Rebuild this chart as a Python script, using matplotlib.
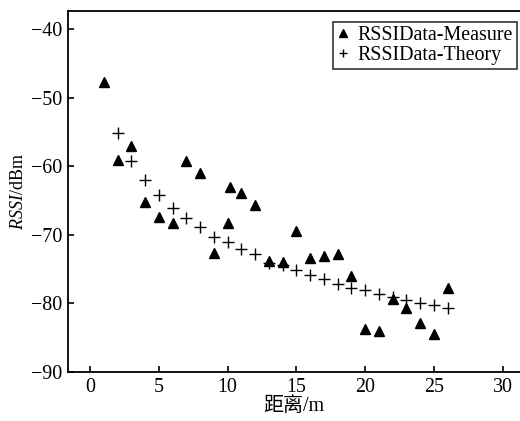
import numpy as np
import matplotlib
matplotlib.use("Agg")
import matplotlib.pyplot as plt

plt.rcParams['font.family'] = ['Liberation Serif', 'Noto Sans CJK SC']
plt.rcParams['mathtext.fontset'] = 'custom'
plt.rcParams['mathtext.rm'] = 'Liberation Serif'
plt.rcParams['mathtext.it'] = 'Liberation Serif:italic'
plt.rcParams['axes.unicode_minus'] = True

# 实测 RSSI
measure_x = [1, 2, 3, 4, 5, 6, 7, 8, 9, 10, 10.2, 11, 12, 13, 14, 15, 16, 17, 18,
             19, 20, 21, 22, 23, 24, 25, 26]
measure_y = [-47.7, -59.1, -57.0, -65.2, -67.4, -68.3, -59.2, -60.9, -72.6, -68.3,
             -63.0, -63.9, -65.6, -73.8, -73.9, -69.5, -73.3, -73.1, -72.8, -76.0,
             -83.7, -84.0, -79.3, -80.6, -82.8, -84.5, -77.7]

# 理论 RSSI
theory_x = list(range(2, 27))
theory_y = [-55.1, -59.2, -62.0, -64.2, -66.1, -67.6, -68.9, -70.3, -71.1, -72.1,
            -72.8, -74.1, -74.4, -75.1, -75.9, -76.5, -77.1, -77.7, -78.1, -78.6,
            -79.1, -79.5, -79.9, -80.2, -80.6]

x_ticks = [0, 5, 10, 15, 20, 25, 30]
y_ticks = [-40, -50, -60, -70, -80, -90]


def plot_rssi():
    fig = plt.figure(figsize=(5.2, 4.21), dpi=100)
    ax = fig.add_axes([0.1308, 0.1164, 0.8692, 0.8575])

    ax.plot(measure_x, measure_y, linestyle='none', marker='^', markersize=6.5,
            color='black', label='RSSIData-Measure')
    ax.plot(theory_x, theory_y, linestyle='none', marker='+', markersize=8,
            markeredgewidth=1.0, color='black', label='RSSIData-Theory')

    ax.set_xlim(-1.6, 31.25)
    ax.set_ylim(-90, -37.33)
    ax.set_xticks(x_ticks)
    ax.set_yticks(y_ticks)
    ax.tick_params(direction='in', length=4, width=1.2, labelsize=14.4,
                   top=False, right=False, pad=4)

    for side in ['left', 'bottom', 'top']:
        ax.spines[side].set_linewidth(1.3)
    ax.spines['right'].set_visible(False)

    ax.set_xlabel('距离/m', fontsize=14.4, labelpad=1)
    ax.set_ylabel(r'$\mathit{RSSI}$/dBm', fontsize=13, labelpad=3)

    leg = ax.legend(loc='upper right', bbox_to_anchor=(0.993, 0.97), fontsize=14.4,
                    frameon=True, fancybox=False, edgecolor='black',
                    handlelength=0.6, handletextpad=0.4, borderpad=0.2,
                    labelspacing=0.05, borderaxespad=0.0, markerscale=0.8)
    leg.get_frame().set_linewidth(1.2)

    fig.savefig('out.png', dpi=100)


def main():
    plot_rssi()


if __name__ == "__main__":
    main()
